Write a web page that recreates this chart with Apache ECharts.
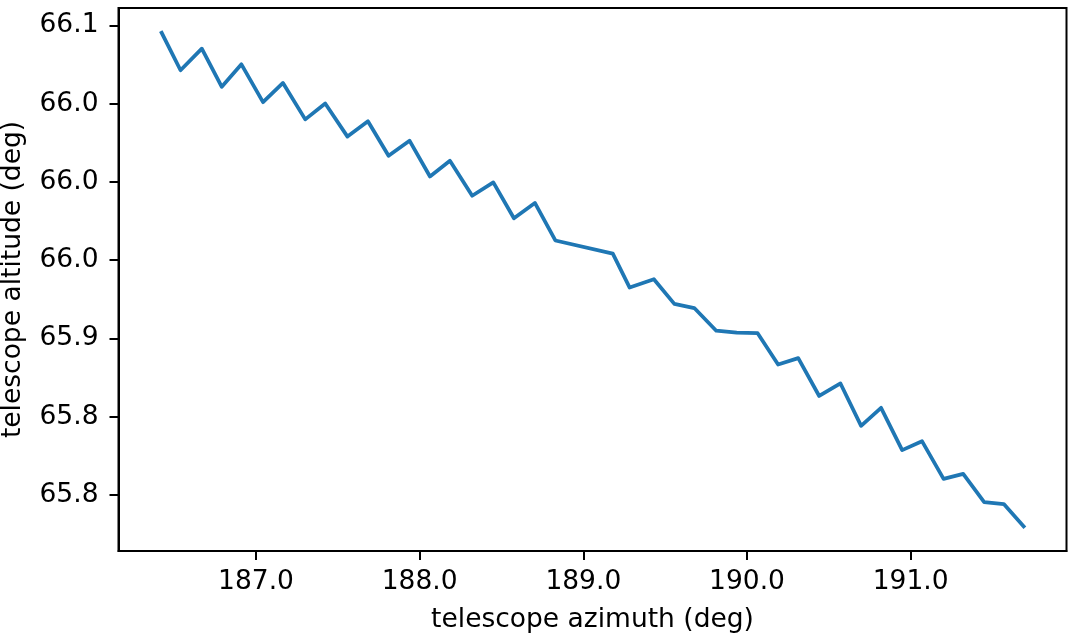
<!DOCTYPE html>
<html>
<head>
<meta charset="utf-8">
<script src="https://cdn.jsdelivr.net/npm/echarts@6/dist/echarts.min.js"></script>
<style>
html,body{margin:0;padding:0;background:#fff;}
#chart{width:1072px;height:635px;}
</style>
</head>
<body>
<div id="chart"></div>
<script>
const azimuth = [186.4235,186.539,186.669,186.791,186.911,187.043,187.165,187.301,187.423,187.559,187.684,187.810,187.938,188.063,188.185,188.321,188.450,188.576,188.704,188.829,189.180,189.283,189.431,189.556,189.678,189.812,189.937,190.065,190.190,190.313,190.441,190.571,190.697,190.819,190.948,191.069,191.201,191.321,191.449,191.569,191.690];
const altitude = [66.0954,66.0714,66.0852,66.0608,66.0752,66.0510,66.0633,66.0400,66.0502,66.0290,66.0388,66.0167,66.0264,66.0035,66.0135,65.9912,65.9997,65.9768,65.9866,65.9626,65.9542,65.9325,65.9378,65.9221,65.9194,65.9049,65.9037,65.9033,65.8833,65.8874,65.8632,65.8712,65.8441,65.8556,65.8286,65.8343,65.8102,65.8134,65.7954,65.7941,65.7799];
const xTickValues = [187,188,189,190,191];
const xTickLabels = ['187.0','188.0','189.0','190.0','191.0'];
const yTickValues = [65.80,65.85,65.90,65.95,66.00,66.05,66.10];
const yTickLabels = ['65.8','65.8','65.9','66.0','66.0','66.0','66.1'];
const xTitle = 'telescope azimuth (deg)';
const yTitle = 'telescope altitude (deg)';

const seriesData = azimuth.map((a, i) => [a, altitude[i]]);
function labelFor(values, labels, v) {
  for (let i = 0; i < values.length; i++) {
    if (Math.abs(values[i] - v) < 1e-6) return labels[i];
  }
  return '';
}
const font = 'DejaVu Sans';
const fs = 26.5;
const chart = echarts.init(document.getElementById('chart'), null, {renderer: 'canvas'});
chart.setOption({
  animation: false,
  backgroundColor: '#fff',
  grid: {left: 118.5, right: 5.5, top: 8, bottom: 84, outerBoundsMode: 'none', containLabel: false,
    show: true, borderColor: '#000', borderWidth: 2, backgroundColor: 'transparent'},
  xAxis: {
    type: 'value', min: 186.160, max: 191.952,
    name: xTitle, nameLocation: 'middle', nameGap: 56,
    nameTextStyle: {fontFamily: font, fontSize: fs, color: '#000'},
    axisLine: {show: true, lineStyle: {color: '#000', width: 2}},
    axisTick: {show: true, length: 9, lineStyle: {color: '#000', width: 2}, customValues: xTickValues},
    axisLabel: {fontFamily: font, fontSize: fs, color: '#000', margin: 18, customValues: xTickValues,
      formatter: v => labelFor(xTickValues, xTickLabels, v)},
    splitLine: {show: false}
  },
  yAxis: {
    type: 'value', min: 65.7641, max: 66.1112,
    name: yTitle, nameLocation: 'middle', nameGap: 92, nameRotate: 90,
    nameTextStyle: {fontFamily: font, fontSize: fs, color: '#000'},
    axisLine: {show: true, lineStyle: {color: '#000', width: 2}},
    axisTick: {show: true, length: 9, lineStyle: {color: '#000', width: 2}, customValues: yTickValues},
    axisLabel: {fontFamily: font, fontSize: fs, color: '#000', margin: 20, customValues: yTickValues,
      formatter: v => labelFor(yTickValues, yTickLabels, v)},
    splitLine: {show: false}
  },
  series: [{
    type: 'line', data: seriesData, showSymbol: false, symbol: 'none',
    lineStyle: {color: '#1f77b4', width: 3.75, cap: 'square', join: 'round'},
    itemStyle: {color: '#1f77b4'}
  }]
});
</script>
</body>
</html>
